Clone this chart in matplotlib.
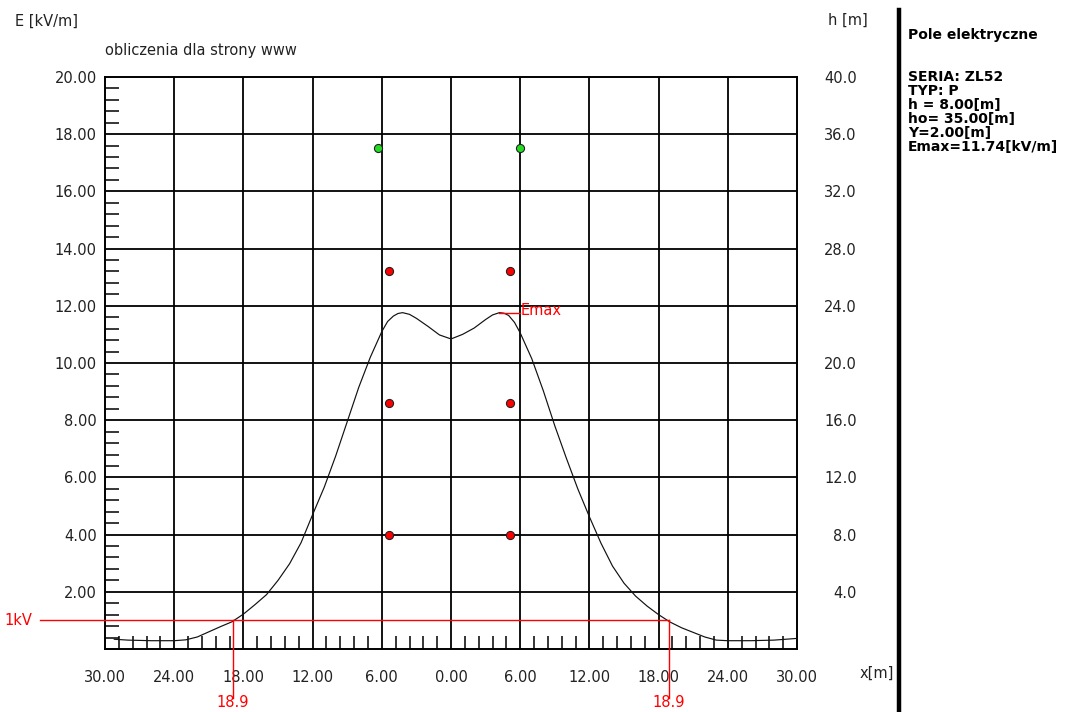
import matplotlib
matplotlib.use("Agg")
import matplotlib.pyplot as plt
from matplotlib.lines import Line2D
from matplotlib.ticker import MultipleLocator, FixedLocator, FixedFormatter

plt.rcParams['font.family'] = ['DejaVu Sans']

# ---------------- data ----------------
x_m = [-29.2, -28, -26, -24, -23, -22, -21, -20, -19, -18, -17, -16, -15, -14,
       -13, -12, -11, -10, -9, -8, -7, -6, -5.5, -5, -4.6, -4.2, -3.6, -3, -2, -1, 0,
       1, 2, 3, 3.6, 4.2, 4.6, 5, 5.5, 6, 7, 8, 9, 10, 11, 12, 13, 14, 15, 16, 17, 18,
       19, 20, 21, 22, 23, 24, 26, 28, 30]
E_kVm = [0.34, 0.31, 0.29, 0.29, 0.32, 0.42, 0.60, 0.78, 0.95, 1.22, 1.55, 1.90,
         2.40, 2.98, 3.72, 4.70, 5.65, 6.75, 7.95, 9.15, 10.20, 11.10, 11.45, 11.64,
         11.73, 11.76, 11.70, 11.56, 11.28, 10.98, 10.84,
         11.00, 11.22, 11.52, 11.68, 11.76, 11.74, 11.66, 11.42, 11.05, 10.15, 9.03,
         7.80, 6.67, 5.59, 4.62, 3.70, 2.90, 2.30, 1.85, 1.50, 1.20, 0.94, 0.74, 0.58,
         0.42, 0.31, 0.29, 0.29, 0.31, 0.37]

phase_x = [-5.35, 5.1, -5.35, 5.1, -5.35, 5.1]
phase_h = [8.0, 8.0, 17.2, 17.2, 26.4, 26.4]
ground_x = [-6.3, 6.0]
ground_h = [35.0, 35.0]

E_max = 11.74
x_Emax = 4.2
E_limit = 1.0
cross_x = [-18.9, 18.9]
cross_labels = ["18.9", "18.9"]

x_ticks = [-30, -24, -18, -12, -6, 0, 6, 12, 18, 24, 30]
x_ticklabels = ["30.00", "24.00", "18.00", "12.00", "6.00", "0.00",
                "6.00", "12.00", "18.00", "24.00", "30.00"]
y_ticks = [2, 4, 6, 8, 10, 12, 14, 16, 18, 20]
y_ticklabels = ["2.00", "4.00", "6.00", "8.00", "10.00", "12.00",
                "14.00", "16.00", "18.00", "20.00"]
h_ticks = [4, 8, 12, 16, 20, 24, 28, 32, 36, 40]
h_ticklabels = ["4.0", "8.0", "12.0", "16.0", "20.0", "24.0",
                "28.0", "32.0", "36.0", "40.0"]

info_title = "Pole elektryczne"
info_lines = ["SERIA: ZL52", "TYP: P", "h = 8.00[m]", "ho= 35.00[m]",
              "Y=2.00[m]", "Emax=11.74[kV/m]"]

# ---------------- figure ----------------
fig = plt.figure(figsize=(10.73, 7.12), dpi=100)
ax = fig.add_axes([0.0979, 0.0885, 0.6449, 0.8034])
ax.set_xlim(-30, 30)
ax.set_ylim(0, 20)

# grid
for gx in x_ticks[1:-1]:
    ax.axvline(gx, color='black', lw=1.3, zorder=1)
for gy in y_ticks[:-1]:
    ax.axhline(gy, color='black', lw=1.3, zorder=1)

for s in ax.spines.values():
    s.set_linewidth(1.4)

ax.xaxis.set_major_locator(FixedLocator(x_ticks))
ax.xaxis.set_major_formatter(FixedFormatter(x_ticklabels))
ax.yaxis.set_major_locator(FixedLocator(y_ticks))
ax.yaxis.set_major_formatter(FixedFormatter(y_ticklabels))
ax.xaxis.set_minor_locator(MultipleLocator(1.2))
ax.yaxis.set_minor_locator(MultipleLocator(0.4))
ax.tick_params(axis='x', which='major', length=0, pad=15, labelsize=10.5)
ax.tick_params(axis='y', which='major', length=0, pad=6, labelsize=10.5)
ax.tick_params(axis='x', which='minor', direction='in', length=9.5, width=1.1,
               bottom=True, top=False)
ax.tick_params(axis='y', which='minor', direction='in', length=10, width=1.1,
               left=True, right=False)
for t in ax.get_xticklabels() + ax.get_yticklabels():
    t.set_color('#222222')

# curve
ax.plot(x_m, E_kVm, color='#111111', lw=0.85, zorder=3)

# Emax marker
ax.plot([x_Emax, 6.0], [E_max, E_max], color='red', lw=1.0, zorder=4)
ax.text(6.0, E_max - 0.05, "Emax", color='red', fontsize=10.5, ha='left', va='baseline')

# 1 kV line
ax.plot([-35.6, cross_x[1]], [E_limit, E_limit], color='red', lw=1.0,
        clip_on=False, zorder=4)
ax.text(-36.3, E_limit, "1kV", color='red', fontsize=10.5, ha='right', va='center',
        clip_on=False)
for cx, cl in zip(cross_x, cross_labels):
    ax.plot([cx, cx], [E_limit, -1.7], color='red', lw=1.0, clip_on=False, zorder=4)
    ax.text(cx, -2.15, cl, color='red', fontsize=10.5, ha='center', va='bottom',
            clip_on=False)

# right axis: heights
ax2 = ax.twinx()
ax2.set_ylim(0, 40)
ax2.yaxis.set_major_locator(FixedLocator(h_ticks))
ax2.yaxis.set_major_formatter(FixedFormatter(h_ticklabels))
ax2.tick_params(axis='y', length=0, pad=43, labelsize=10.5)
for t in ax2.get_yticklabels():
    t.set_ha('right')
    t.set_color('#222222')
for s in ax2.spines.values():
    s.set_visible(False)

ax2.scatter(phase_x, phase_h, s=34, marker='o', c='#ff0000', edgecolors='#222222',
            linewidths=0.8, zorder=5)
ax2.scatter(ground_x, ground_h, s=34, marker='o', c='#22dd22', edgecolors='#222222',
            linewidths=0.8, zorder=5)

# labels
fig.text(15 / 1073, 1 - 21 / 712, "E [kV/m]", fontsize=10.5, ha='left', va='center',
         color='#222222')
fig.text(105 / 1073, 1 - 51 / 712, "obliczenia dla strony www", fontsize=10.5,
         ha='left', va='center', color='#222222')
fig.text(828 / 1073, 1 - 20 / 712, "h [m]", fontsize=10.5, ha='left', va='center',
         color='#222222')
fig.text(860 / 1073, 1 - 673 / 712, "x[m]", fontsize=10.5, ha='left', va='center',
         color='#222222')

# separator
fig.add_artist(Line2D([899 / 1073, 899 / 1073], [0, 1 - 10 / 712],
                      transform=fig.transFigure, color='black', lw=3.2))

# info panel
fig.text(908 / 1073, 1 - 35 / 712, info_title, fontsize=10, fontweight='bold',
         ha='left', va='center')
for i, line in enumerate(info_lines):
    fig.text(908 / 1073, 1 - (77 + 14 * i) / 712, line, fontsize=10,
             fontweight='bold', ha='left', va='center')

fig.savefig("out.png", dpi=100)
